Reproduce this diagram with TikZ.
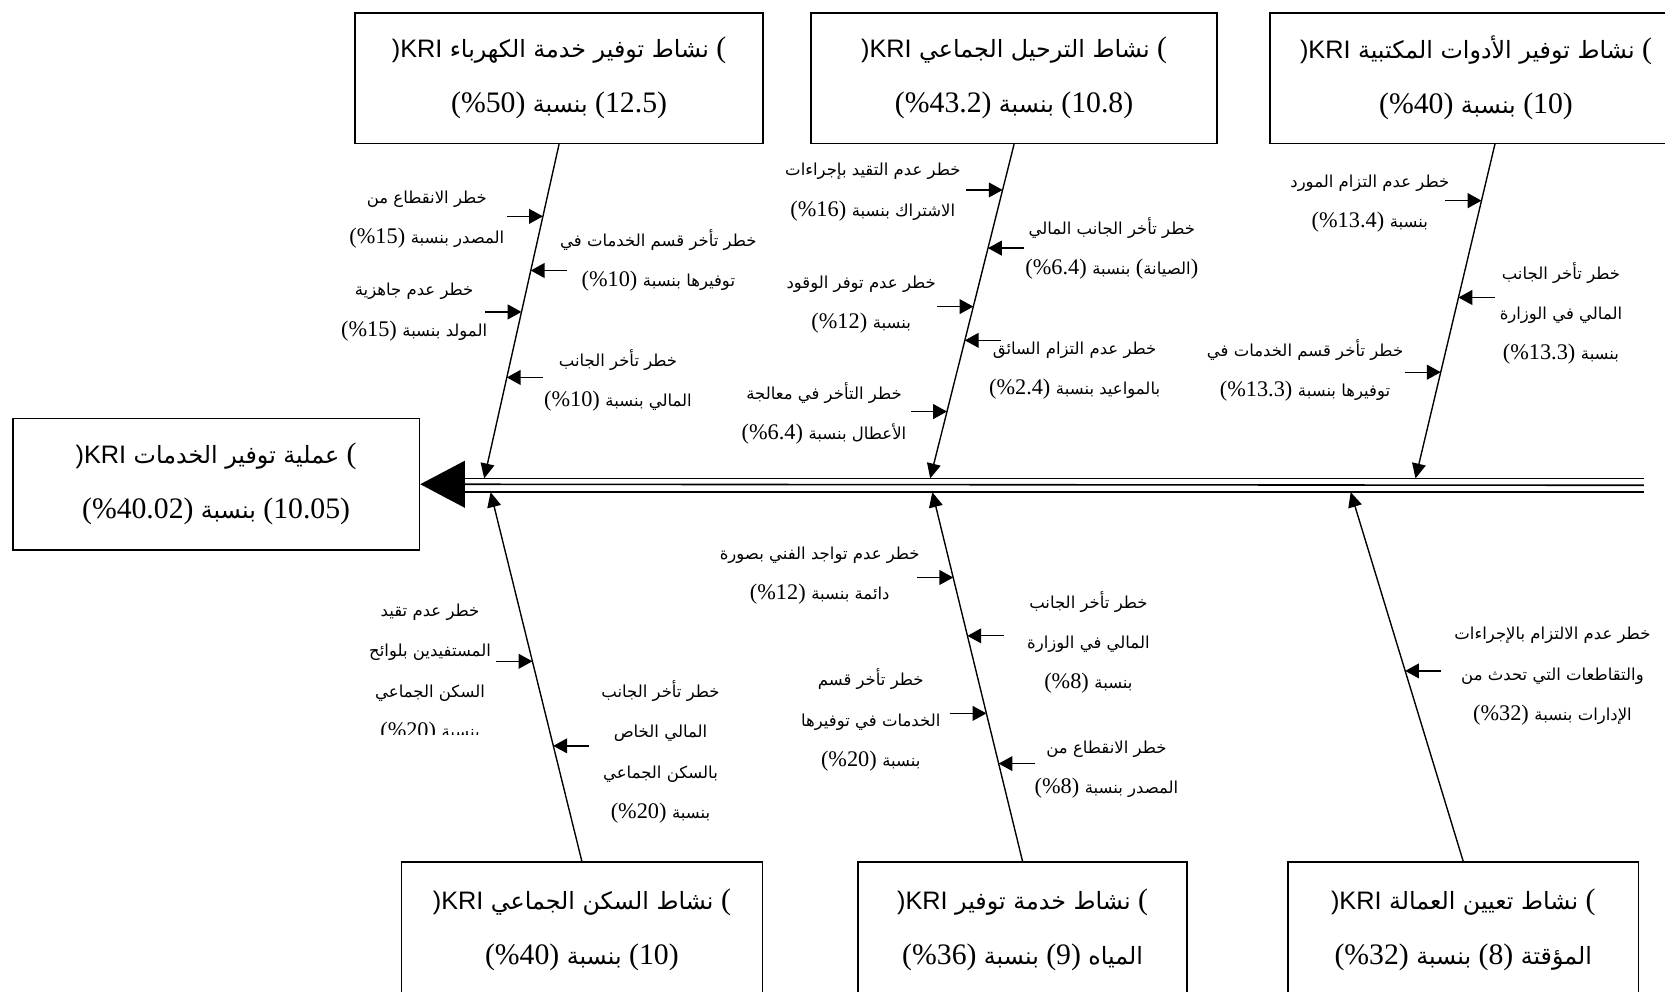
\documentclass[tikz,border=0pt]{standalone}
\usepackage{fontspec}
\setmainfont{Liberation Serif}
\newfontfamily\arabicfont[Script=Arabic,Scale=0.8]{DejaVu Sans}
\newfontfamily\arabiclabel[Script=Arabic,Scale=0.74]{DejaVu Sans}
\newfontfamily\krifont[Scale=0.85]{Liberation Sans}
\TeXXeTstate=1
\usetikzlibrary{calc,arrows.meta}
\newcommand\arb[1]{{\arabicfont\beginR #1\endR}}
\newcommand\ars[1]{{\arabiclabel\beginR #1\endR}}
\newcommand\kri{{\krifont )KRI}}

\begin{document}
\begin{tikzpicture}[x=0.5pt,y=-0.5pt,
	kribox/.style={draw,line width=0.75pt,align=center,font=\fontsize{14}{26}\selectfont},
	risktext/.style={align=center,inner sep=0pt,font=\fontsize{10.5}{19}\selectfont},
	bone/.style={line width=0.65pt,-{Triangle[length=7pt,width=6.5pt]}},
	riskarrow/.style={line width=0.6pt,-{Triangle[length=6.5pt,width=7pt]}}]
\useasboundingbox (0,0) rectangle (1568,934);
\clip (0,0) rectangle (1568,934);
% boxes
\node[kribox,minimum width=192pt,minimum height=61.5pt] (box1) at (526.5,73.5) {\kri{} \arb{نشاط توفير خدمة الكهرباء} (\\(\%50) \arb{بنسبة} (12.5)};
\node[kribox,minimum width=191pt,minimum height=61.5pt] (box2) at (955,73.5) {\kri{} \arb{نشاط الترحيل الجماعي} (\\(\%43.2) \arb{بنسبة} (10.8)};
\node[kribox,minimum width=194pt,minimum height=61.5pt] (box3) at (1390,73.5) {\kri{} \arb{نشاط توفير الأدوات المكتبية} (\\(\%40) \arb{بنسبة} (10)};
\node[kribox,minimum width=191.5pt,minimum height=62pt] (main) at (203.5,456) {\kri{} \arb{عملية توفير الخدمات} (\\(\%40.02) \arb{بنسبة} (10.05)};
\node[kribox,minimum width=170pt,minimum height=64pt] (box4) at (548,876) {\kri{} \arb{نشاط السكن الجماعي} (\\(\%40) \arb{بنسبة} (10)};
\node[kribox,minimum width=155pt,minimum height=64pt] (box5) at (963,876) {\kri{} \arb{نشاط خدمة توفير} (\\(\%36) \arb{بنسبة} (9) \arb{المياه}};
\node[kribox,minimum width=165pt,minimum height=64pt] (box6) at (1378,876) {\kri{} \arb{نشاط تعيين العمالة} (\\(\%32) \arb{بنسبة} (8) \arb{المؤقتة}};

% spine
\coordinate (spineR) at (1548,457);
\coordinate (spineL) at (437,457);
\draw[line width=0.75pt,-{Triangle[length=21pt,width=22pt]}] (spineR) -- (main.east);
\draw[line width=0.75pt] ($(spineR)+(0,-6.5)$) -- ($(spineL)+(0,-6.5)$);
\draw[line width=0.75pt] ($(spineR)+(0,6.5)$) -- ($(spineL)+(0,6.5)$);

% bones
\coordinate (b1e) at (456,450.5);
\coordinate (b2e) at (876,450.5);
\coordinate (b3e) at (1333,450.5);
\coordinate (b3s) at (1408,135);
\coordinate (b4e) at (462,463.5);
\coordinate (b5e) at (878,463.5);
\coordinate (b6e) at (1272,463.5);
\draw[bone] (box1.south) -- (b1e);
\draw[bone] (box2.south) -- (b2e);
\draw[bone] (b3s) -- (b3e);
\draw[bone] (box4.north) -- (b4e);
\draw[bone] (box5.north) -- (b5e);
\draw[bone] (box6.north) -- (b6e);

% risks of box1
\coordinate (r1a) at ($(box1.south)!.216!(b1e)$);
\coordinate (r1b) at ($(box1.south)!.378!(b1e)$);
\coordinate (r1c) at ($(box1.south)!.502!(b1e)$);
\coordinate (r1d) at ($(box1.south)!.698!(b1e)$);
\draw[riskarrow] ($(r1a)+(-34,0)$) -- (r1a);
\draw[riskarrow] ($(r1b)+(34,0)$) -- (r1b);
\draw[riskarrow] ($(r1c)+(-34,0)$) -- (r1c);
\draw[riskarrow] ($(r1d)+(34,0)$) -- (r1d);
\node[risktext] (l1a) at (402,207) {\ars{خطر الانقطاع من}\\(\%15) \ars{المصدر بنسبة}};
\node[risktext] (l1b) at (620,245) {\ars{خطر تأخر قسم الخدمات في}\\(\%10) \ars{توفيرها بنسبة}};
\node[risktext] (l1c) at (390,294) {\ars{خطر عدم جاهزية}\\(\%15) \ars{المولد بنسبة}};
\node[risktext] (l1d) at (582,358) {\ars{خطر تأخر الجانب}\\(\%10) \ars{المالي بنسبة}};

% risks of box2
\coordinate (r2a) at ($(box2.south)!.137!(b2e)$);
\coordinate (r2b) at ($(box2.south)!.311!(b2e)$);
\coordinate (r2c) at ($(box2.south)!.486!(b2e)$);
\coordinate (r2d) at ($(box2.south)!.587!(b2e)$);
\coordinate (r2e) at ($(box2.south)!.8!(b2e)$);
\draw[riskarrow] ($(r2a)+(-34,0)$) -- (r2a);
\draw[riskarrow] ($(r2b)+(34,0)$) -- (r2b);
\draw[riskarrow] ($(r2c)+(-34,0)$) -- (r2c);
\draw[riskarrow] ($(r2d)+(34,0)$) -- (r2d);
\draw[riskarrow] ($(r2e)+(-34,0)$) -- (r2e);
\node[risktext] (l2a) at (822,181) {\ars{خطر عدم التقيد بإجراءات}\\(\%16) \ars{الاشتراك بنسبة}};
\node[risktext] (l2b) at (1047,234) {\ars{خطر تأخر الجانب المالي}\\(\%6.4) \ars{بنسبة} (\ars{الصيانة})};
\node[risktext] (l2c) at (811,287) {\ars{خطر عدم توفر الوقود}\\(\%12) \ars{بنسبة}};
\node[risktext] (l2d) at (1012,349) {\ars{خطر عدم التزام السائق}\\(\%2.4) \ars{بالمواعيد بنسبة}};
\node[risktext] (l2e) at (776,389) {\ars{خطر التأخر في معالجة}\\(\%6.4) \ars{الأعطال بنسبة}};

% risks of box3
\coordinate (r3a) at ($(b3s)!.171!(b3e)$);
\coordinate (r3b) at ($(b3s)!.460!(b3e)$);
\coordinate (r3c) at ($(b3s)!.683!(b3e)$);
\draw[riskarrow] ($(r3a)+(-34,0)$) -- (r3a);
\draw[riskarrow] ($(r3b)+(34,0)$) -- (r3b);
\draw[riskarrow] ($(r3c)+(-34,0)$) -- (r3c);
\node[risktext] (l3a) at (1290,192) {\ars{خطر عدم التزام المورد}\\(\%13.4) \ars{بنسبة}};
\node[risktext] (l3b) at (1470,295) {\ars{خطر تأخر الجانب}\\\ars{المالي في الوزارة}\\(\%13.3) \ars{بنسبة}};
\node[risktext] (l3c) at (1229,349) {\ars{خطر تأخر قسم الخدمات في}\\(\%13.3) \ars{توفيرها بنسبة}};

% risks of box4
\coordinate (r4a) at ($(box4.north)!.542!(b4e)$);
\coordinate (r4b) at ($(box4.north)!.313!(b4e)$);
\draw[riskarrow] ($(r4a)+(-34,0)$) -- (r4a);
\draw[riskarrow] ($(r4b)+(34,0)$) -- (r4b);
\begin{scope}
\clip (300,540) rectangle (480,692);
\node[risktext] (l4a) at (405,634) {\ars{خطر عدم تقيد}\\\ars{المستفيدين بلوائح}\\\ars{السكن الجماعي}\\(\%20) \ars{بنسبة}};
\end{scope}
\node[risktext] (l4b) at (622,708) {\ars{خطر تأخر الجانب}\\\ars{المالي الخاص}\\\ars{بالسكن الجماعي}\\(\%20) \ars{بنسبة}};

% risks of box5
\coordinate (r5a) at ($(box5.north)!.769!(b5e)$);
\coordinate (r5b) at ($(box5.north)!.611!(b5e)$);
\coordinate (r5c) at ($(box5.north)!.401!(b5e)$);
\coordinate (r5d) at ($(box5.north)!.265!(b5e)$);
\draw[riskarrow] ($(r5a)+(-34,0)$) -- (r5a);
\draw[riskarrow] ($(r5b)+(34,0)$) -- (r5b);
\draw[riskarrow] ($(r5c)+(-34,0)$) -- (r5c);
\draw[riskarrow] ($(r5d)+(34,0)$) -- (r5d);
\node[risktext] (l5a) at (772,542) {\ars{خطر عدم تواجد الفني بصورة}\\(\%12) \ars{دائمة بنسبة}};
\node[risktext] (l5b) at (1025,605) {\ars{خطر تأخر الجانب}\\\ars{المالي في الوزارة}\\(\%8) \ars{بنسبة}};
\node[risktext] (l5c) at (820,678) {\ars{خطر تأخر قسم}\\\ars{الخدمات في توفيرها}\\(\%20) \ars{بنسبة}};
\node[risktext] (l5d) at (1042,725) {\ars{خطر الانقطاع من}\\(\%8) \ars{المصدر بنسبة}};

% risks of box6
\coordinate (r6a) at ($(box6.north)!.516!(b6e)$);
\draw[riskarrow] ($(r6a)+(34,0)$) -- (r6a);
\node[risktext] (l6a) at (1462,637) {\ars{خطر عدم الالتزام بالإجراءات}\\\ars{والتقاطعات التي تحدث من}\\(\%32) \ars{الإدارات بنسبة}};
\end{tikzpicture}
\end{document}
